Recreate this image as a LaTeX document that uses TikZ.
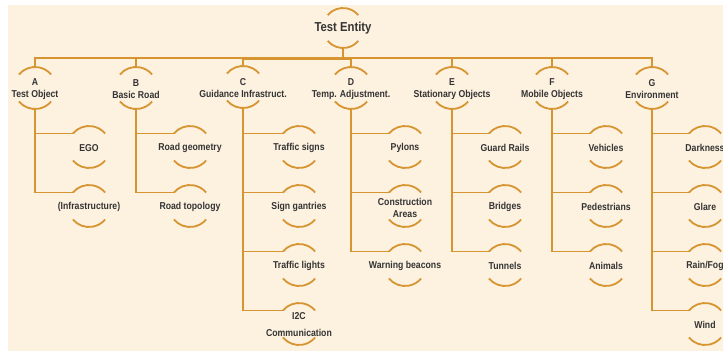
\documentclass[tikz,border=0pt]{standalone}
\usepackage{fontspec}
\setmainfont{Liberation Sans}[FakeStretch=0.87]
\usetikzlibrary{calc}
\definecolor{bgcream}{RGB}{253,241,224}
\definecolor{gold}{RGB}{214,149,48}
\definecolor{txt}{RGB}{52,52,52}
\begin{document}
\begin{tikzpicture}[x=1pt,y=1pt,
  every node/.style={text=txt, font=\bfseries\fontsize{10}{12}\selectfont},
  hub/.style={circle, minimum size=42pt, inner sep=0pt, outer sep=0pt},
  twoline/.style={label={[align=center,yshift=-1.5pt]center:#1}},
  oneline/.style={label={[yshift=-0.7pt]center:#1}},
  conn/.style={draw=gold, line width=1.5pt},
  bar/.style={draw=gold, line width=1.8pt},
  arcline/.style={draw=gold, line width=1.8pt}]
\useasboundingbox (0,0) rectangle (723,-351);
\clip (0,0) rectangle (723,-351);
\fill[bgcream] (8,-5) rectangle (723,-351);

% root
\node[hub, minimum size=40pt, label={[font=\bfseries\fontsize{13}{15}\selectfont]center:Test Entity}] (te) at (343,-28) {};
\coordinate (top) at (343,-58);

% level 1
\node[hub, twoline={A\\Test Object}] (a) at (35,-88) {};
\node[hub, twoline={B\\Basic Road}] (b) at (136,-88) {};
\node[hub, twoline={C\\Guidance Infrastruct.}] (c) at (243,-87) {};
\node[hub, twoline={D\\Temp. Adjustment.}] (d) at (351,-88) {};
\node[hub, twoline={E\\Stationary Objects}] (e) at (452,-88) {};
\node[hub, twoline={F\\Mobile Objects}] (f) at (552,-88) {};
\node[hub, twoline={G\\Environment}] (g) at (652,-88) {};

% level 2
\node[hub, oneline={EGO}] (a1) at (89,-147) {};
\node[hub, oneline={(Infrastructure)}] (a2) at (89,-206) {};
\node[hub, oneline={Road geometry}] (b1) at (190,-147) {};
\node[hub, oneline={Road topology}] (b2) at (190,-206) {};
\node[hub, oneline={Traffic signs}] (c1) at (299,-147) {};
\node[hub, oneline={Sign gantries}] (c2) at (299,-206) {};
\node[hub, oneline={Traffic lights}] (c3) at (299,-265) {};
\node[hub, label={[align=center,yshift=-0.5pt]center:I2C\\[4.5pt]Communication}] (c4) at (299,-324) {};
\node[hub, oneline={Pylons}] (d1) at (405,-147) {};
\node[hub, twoline={Construction\\Areas}] (d2) at (405,-206) {};
\node[hub, oneline={Warning beacons}] (d3) at (405,-265) {};
\node[hub, oneline={Guard Rails}] (e1) at (505,-147) {};
\node[hub, oneline={Bridges}] (e2) at (505,-206) {};
\node[hub, oneline={Tunnels}] (e3) at (505,-265) {};
\node[hub, oneline={Vehicles}] (f1) at (606,-147) {};
\node[hub, oneline={Pedestrians}] (f2) at (606,-206) {};
\node[hub, oneline={Animals}] (f3) at (606,-265) {};
\node[hub, oneline={Darkness}] (g1) at (705,-147) {};
\node[hub, oneline={Glare}] (g2) at (705,-206) {};
\node[hub, oneline={Rain/Fog}] (g3) at (705,-265) {};
\node[hub, oneline={Wind}] (g4) at (705,-324) {};

% arcs
\draw[arcline] (te.140) arc[start angle=140,end angle=40,radius=20]
               (te.-140) arc[start angle=-140,end angle=-40,radius=20];
\foreach \n in {a,b,c,d,e,f,g,a1,a2,b1,b2,c1,c2,c3,c4,d1,d2,d3,e1,e2,e3,f1,f2,f3,g1,g2,g3,g4}{
  \draw[arcline] (\n.140) arc[start angle=140,end angle=40,radius=21]
                 (\n.-140) arc[start angle=-140,end angle=-40,radius=21];
}

% top bar
\draw[bar] (te.south) -- (top);
\foreach \n in {a,b,c,d,e,f,g}{
  \draw[bar] (\n.north) |- (top);
}
\draw[bar] ($(c.north |- top)+(0,-1.4)$) -- ($(d.north |- top)+(0,-1.4)$);

% branches
\foreach \p/\k in {a/a1,a/a2,b/b1,b/b2,c/c1,c/c2,c/c3,c/c4,d/d1,d/d2,d/d3,e/e1,e/e2,e/e3,f/f1,f/f2,f/f3,g/g1,g/g2,g/g3,g/g4}{
  \draw[conn] (\p.south) |- (\k.140);
}
\end{tikzpicture}
\end{document}
